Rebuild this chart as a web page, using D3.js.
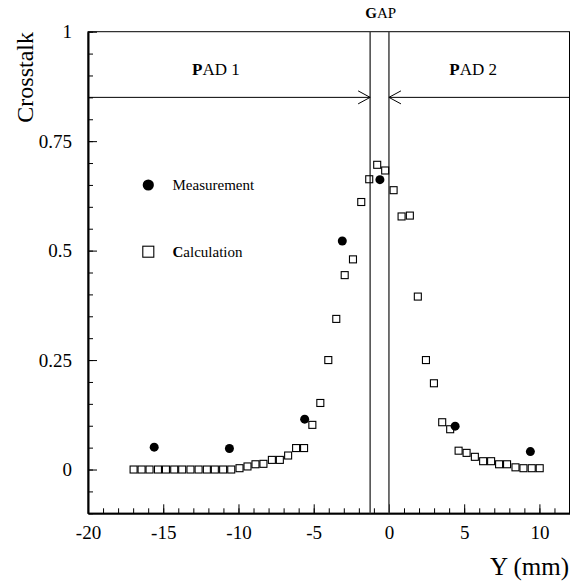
<!DOCTYPE html>
<html>
<head>
<meta charset="utf-8">
<script src="https://cdn.jsdelivr.net/npm/d3@7"></script>
<style>
  body { margin: 0; background: #fff; }
  svg text { font-family: "Liberation Serif", "Times New Roman", serif; fill: #000; }
</style>
</head>
<body>
<svg id="chart" width="570" height="583"></svg>
<script>
// Measured crosstalk (filled circles)
const measX = [-15.6, -10.6, -5.6, -3.1, -0.6, 4.4, 9.4];
const measY = [0.051, 0.048, 0.115, 0.522, 0.662, 0.099, 0.041];

// Calculated crosstalk (open squares)
const calcX = [-16.97, -16.44, -15.91, -15.35, -14.82, -14.27, -13.74, -13.19, -12.65, -12.10,
               -11.57, -11.02, -10.48, -9.93, -9.40, -8.87, -8.34, -7.78, -7.25, -6.70,
               -6.17, -5.64, -5.09, -4.56, -4.03, -3.50, -2.94, -2.39, -1.84, -1.31,
               -0.78, -0.25, 0.31, 0.84, 1.39, 1.92, 2.46, 2.99, 3.54, 4.07,
               4.63, 5.16, 5.71, 6.26, 6.79, 7.32, 7.85, 8.41, 8.94, 9.49, 10.02];
const calcY = [0, 0, 0, 0, 0, 0, 0, 0, 0, 0,
               0, 0, 0, 0.003, 0.007, 0.012, 0.013, 0.022, 0.022, 0.032,
               0.049, 0.049, 0.102, 0.152, 0.250, 0.344, 0.444, 0.480, 0.611, 0.663,
               0.696, 0.683, 0.638, 0.578, 0.580, 0.395, 0.250, 0.197, 0.108, 0.092,
               0.043, 0.038, 0.029, 0.019, 0.019, 0.012, 0.012, 0.005, 0.003, 0.003, 0.003];

// Axis ticks
const xMajorTicks = [-20, -15, -10, -5, 0, 5, 10];
const xMinorTicks = d3.range(-20, 13, 1);
const yMajorTicks = [0, 0.25, 0.5, 0.75, 1];
const yMinorTicks = d3.range(-0.1, 1.0001, 0.05).map(v => +v.toFixed(2));

// Pad geometry (mm) and header line level
const gapEdges = [-1.25, 0];
const headerLevel = 0.85;

const svg = d3.select("#chart");
const plotL = 88, plotR = 569.5, plotT = 31.7, plotB = 513.3;

const x = d3.scaleLinear().domain([-20, 12]).range([plotL, plotR]);
const y = d3.scaleLinear().domain([-0.1, 1]).range([plotB, plotT]);

// Frame
svg.append("rect")
  .attr("x", plotL).attr("y", plotT)
  .attr("width", plotR - plotL).attr("height", plotB - plotT)
  .attr("fill", "none").attr("stroke", "#000").attr("stroke-width", 1);

// X axis: minor ticks then major ticks with labels
const fmt = d => String(d);
svg.append("g").attr("transform", `translate(0,${plotB})`)
  .call(d3.axisBottom(x).tickValues(xMinorTicks).tickSizeInner(-5).tickSizeOuter(0).tickFormat(""))
  .call(g => g.select(".domain").remove());
const gx = svg.append("g").attr("transform", `translate(0,${plotB})`)
  .call(d3.axisBottom(x).tickValues(xMajorTicks).tickSizeInner(-9).tickSizeOuter(0)
        .tickPadding(12).tickFormat(fmt));
gx.select(".domain").attr("stroke-width", 2);
gx.selectAll("text").attr("font-size", 19).style("font-family", "Liberation Serif, serif");

// Y axis
svg.append("g").attr("transform", `translate(${plotL},0)`)
  .call(d3.axisLeft(y).tickValues(yMinorTicks).tickSizeInner(-5).tickSizeOuter(0).tickFormat(""))
  .call(g => g.select(".domain").remove());
const gy = svg.append("g").attr("transform", `translate(${plotL},0)`)
  .call(d3.axisLeft(y).tickValues(yMajorTicks).tickSizeInner(-9).tickSizeOuter(0)
        .tickPadding(16).tickFormat(d => String(d)));
gy.select(".domain").attr("stroke-width", 2);
gy.selectAll("text").attr("font-size", 19).style("font-family", "Liberation Serif, serif");
svg.selectAll(".tick line").attr("stroke", "#000");

// Gap boundaries
svg.selectAll("line.gap").data(gapEdges).join("line")
  .attr("class", "gap")
  .attr("x1", d => x(d)).attr("x2", d => x(d))
  .attr("y1", plotT).attr("y2", plotB)
  .attr("stroke", "#444").attr("stroke-width", 1.5);

// Header lines with open arrowheads pointing to the gap
const hy = y(headerLevel);
svg.append("line").attr("x1", plotL).attr("x2", x(gapEdges[0])).attr("y1", hy).attr("y2", hy)
  .attr("stroke", "#000").attr("stroke-width", 1);
svg.append("line").attr("x1", x(gapEdges[1])).attr("x2", plotR).attr("y1", hy).attr("y2", hy)
  .attr("stroke", "#000").attr("stroke-width", 1);
const ah = 12, aw = 6.5;
svg.append("path")
  .attr("d", `M${x(gapEdges[0]) - ah},${hy - aw}L${x(gapEdges[0])},${hy}L${x(gapEdges[0]) - ah},${hy + aw}`)
  .attr("fill", "none").attr("stroke", "#000").attr("stroke-width", 1);
svg.append("path")
  .attr("d", `M${x(gapEdges[1]) + ah},${hy - aw}L${x(gapEdges[1])},${hy}L${x(gapEdges[1]) + ah},${hy + aw}`)
  .attr("fill", "none").attr("stroke", "#000").attr("stroke-width", 1);

// Region labels: first letter bold
function label(tx, ty, first, rest, size) {
  const t = svg.append("text").attr("x", tx).attr("y", ty)
    .attr("text-anchor", "middle").attr("font-size", size);
  t.append("tspan").attr("font-weight", "bold").text(first);
  t.append("tspan").text(rest);
  return t;
}
label(x(-11.5), y(0.9), "P", "AD 1", 17);
label(x(5.6), y(0.9), "P", "AD 2", 17);
label(x(-0.55), 18, "G", "AP", 15);

// Calculation squares
const sq = 7;
svg.selectAll("rect.calc").data(calcX.map((v, i) => [v, calcY[i]])).join("rect")
  .attr("class", "calc")
  .attr("x", d => x(d[0]) - sq / 2).attr("y", d => y(d[1]) - sq / 2)
  .attr("width", sq).attr("height", sq)
  .attr("fill", "none").attr("stroke", "#000").attr("stroke-width", 1.1);

// Measurement circles
svg.selectAll("circle.meas").data(measX.map((v, i) => [v, measY[i]])).join("circle")
  .attr("class", "meas")
  .attr("cx", d => x(d[0])).attr("cy", d => y(d[1]))
  .attr("r", 4.5).attr("fill", "#000");

// Legend
svg.append("circle").attr("cx", 148.3).attr("cy", 185).attr("r", 5.6).attr("fill", "#000");
svg.append("text").attr("x", 172.5).attr("y", 190).attr("font-size", 15).text("Measurement");
svg.append("rect").attr("x", 148.3 - 5.5).attr("y", 251.7 - 5.5).attr("width", 11).attr("height", 11)
  .attr("fill", "none").attr("stroke", "#000").attr("stroke-width", 1.1);
const lc = svg.append("text").attr("x", 172.5).attr("y", 256.5).attr("font-size", 15);
lc.append("tspan").attr("font-weight", "bold").text("C");
lc.append("tspan").text("alculation");

// Axis titles
svg.append("text").attr("transform", "translate(33,32) rotate(-90)")
  .attr("text-anchor", "end").attr("font-size", 24).text("Crosstalk");
svg.append("text").attr("x", 569).attr("y", 575)
  .attr("text-anchor", "end").attr("font-size", 25).text("Y (mm)");
</script>
</body>
</html>
